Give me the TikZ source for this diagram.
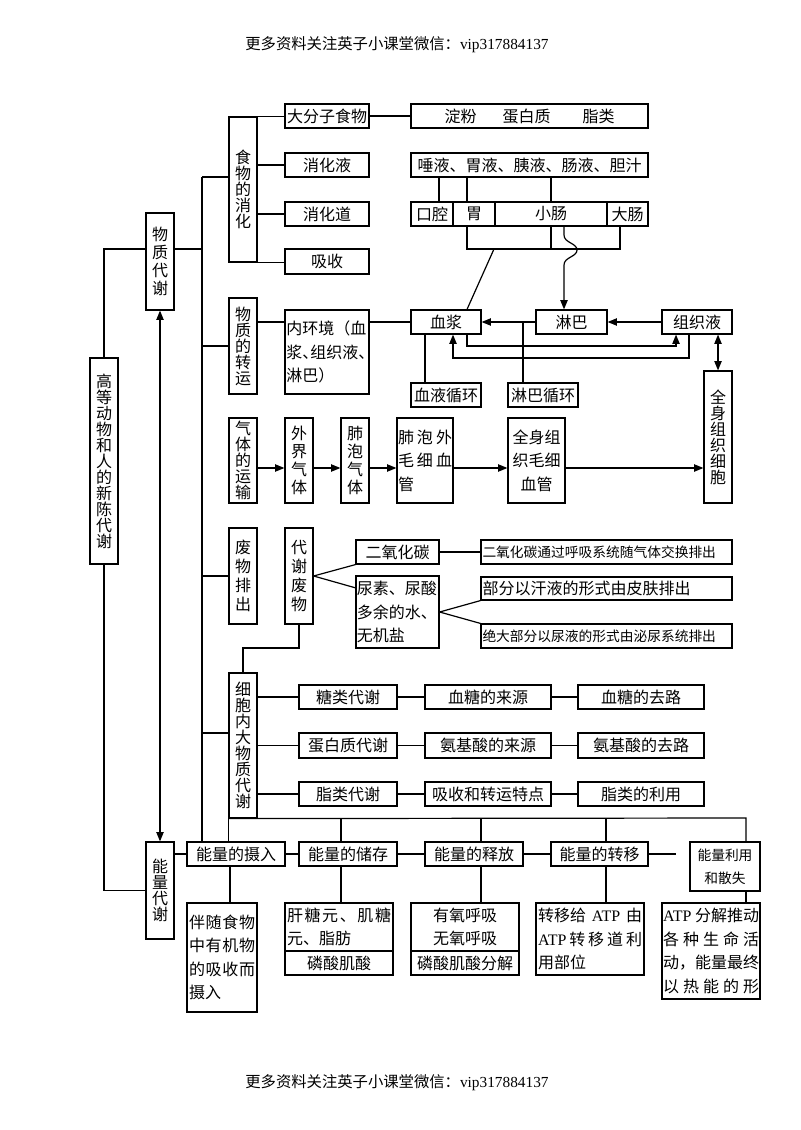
\documentclass[tikz,border=0pt]{standalone}
\usepackage{fontspec}
\setmainfont{Noto Sans CJK SC}
\newfontfamily\tnr{Liberation Serif}
\usetikzlibrary{arrows.meta}
\newcommand\bx[7][]{\node[bxs,minimum width={(#5-#3)*0.75pt},minimum height={(#6-#4)*0.75pt},#1] (#2) at ({(#3+#5)/2},{(#4+#6)/2}) {#7};}
\newcommand\jl[2]{\makebox[#1][s]{#2}}
\newcommand\mydun{\makebox[0.5em][l]{、}}
\begin{document}
\begin{tikzpicture}[x=0.75pt,y=-0.75pt,line width=0.9pt,
  bxs/.style={draw,inner sep=0pt,align=center,font=\fontsize{12}{17.6}\selectfont},
  vt/.style={font=\fontsize{12}{12}\selectfont},
  vtb/.style={font=\fontsize{12}{13.5}\selectfont},
  vtc/.style={font=\fontsize{12}{14.2}\selectfont},
  sm/.style={font=\fontsize{10.3}{17}\selectfont},
  hd/.style={font=\fontsize{11.5}{12}\selectfont},
  arr/.style={-{Triangle[length=7pt,width=5.5pt]}},
  darr/.style={{Triangle[length=7pt,width=5.5pt]}-{Triangle[length=7pt,width=5.5pt]}}]
\useasboundingbox (0,0) rectangle (800,1130);
\node[hd] (hdr) at (397,45) {更多资料关注英子小课堂微信：{\tnr vip317884137}};
\node[hd] (ftr) at (397,1083) {更多资料关注英子小课堂微信：{\tnr vip317884137}};
% left column
\bx[vt]{gd}{90}{358}{118}{564}{高\\等\\动\\物\\和\\人\\的\\新\\陈\\代\\谢}
\bx[vtb]{wz}{146}{213}{174}{310}{物\\质\\代\\谢}
\bx[vt]{nl}{146}{842}{174}{939}{能\\量\\代\\谢}
% digestion
\bx[vt]{xh}{229}{117}{257}{262}{食\\物\\的\\消\\化}
\bx{dfz}{285}{104}{369}{128}{大分子食物}
\bx{xhy}{285}{153}{369}{177}{消化液}
\bx{xhd}{285}{202}{369}{226}{消化道}
\bx{xs}{285}{249}{369}{274}{吸收}
\bx{df}{411}{104}{648}{128}{淀粉\hspace{19.5pt}蛋白质\hspace{24pt}脂类}
\bx{ty}{411}{153}{648}{177}{唾液、胃液、胰液、肠液、胆汁}
\bx{kq}{411}{202}{453}{226}{口腔}
\bx{wei}{453}{202}{495}{226}{胃}
\bx{xc}{495}{202}{607}{226}{小肠}
\bx{dc}{607}{202}{648}{226}{大肠}
% transport
\bx[vt]{zy}{229}{298}{257}{394}{物\\质\\的\\转\\运}
\bx[text width=61pt,align=left]{nhj}{285}{310}{369}{394}{内环境（血\\浆\mydun 组织液\mydun\\淋巴）}
\bx{xj}{411}{310}{481}{334}{血浆}
\bx{lb}{536}{310}{607}{334}{淋巴}
\bx{zzy}{662}{310}{732}{334}{组织液}
\bx{xyxh}{411}{383}{481}{407}{血液循环}
\bx{lbxh}{508}{383}{578}{407}{淋巴循环}
\bx[vt]{qs}{704}{371}{732}{503}{全\\身\\组\\织\\细\\胞}
% gas
\bx[vt]{qt}{229}{418}{257}{503}{气\\体\\的\\运\\输}
\bx[vtb]{wj}{285}{418}{313}{503}{外\\界\\气\\体}
\bx[vtb]{fp}{341}{418}{369}{503}{肺\\泡\\气\\体}
\bx[text width=40.5pt,align=left]{fpm}{397}{418}{453}{503}{\jl{40.5pt}{肺\hfill 泡\hfill 外}\\\jl{40.5pt}{毛\hfill 细\hfill 血}\\管}
\bx{qsm}{508}{418}{565}{503}{全身组\\织毛细\\血管}
% waste
\bx[vtc]{fw}{229}{528}{257}{624}{废\\物\\排\\出}
\bx[vtc]{dxfw}{285}{528}{313}{624}{代\\谢\\废\\物}
\bx{co2}{356}{540}{439}{564}{二氧化碳}
\bx[text width=61pt,align=left]{ns}{356}{576}{439}{648}{尿素、尿酸\\多余的水、\\无机盐}
\bx[sm,text width=186pt,align=left]{co2t}{481}{540}{732}{564}{二氧化碳通过呼吸系统随气体交换排出}
\bx[text width=186pt,align=left]{hy}{481}{577}{732}{600}{部分以汗液的形式由皮肤排出}
\bx[sm,text width=186pt,align=left]{ny}{481}{624}{732}{648}{绝大部分以尿液的形式由泌尿系统排出}
% cell metabolism
\bx[vt]{xb}{229}{673}{257}{818}{细\\胞\\内\\大\\物\\质\\代\\谢}
\bx{tl}{299}{685}{397}{709}{糖类代谢}
\bx{xtly}{425}{685}{551}{709}{血糖的来源}
\bx{xtql}{578}{685}{704}{709}{血糖的去路}
\bx{db}{299}{733}{397}{758}{蛋白质代谢}
\bx{ajly}{425}{733}{551}{758}{氨基酸的来源}
\bx{ajql}{578}{733}{704}{758}{氨基酸的去路}
\bx{zl}{299}{782}{397}{806}{脂类代谢}
\bx{xszy}{425}{782}{551}{806}{吸收和转运特点}
\bx{zlly}{578}{782}{704}{806}{脂类的利用}
% energy
\bx{sr}{187}{842}{285}{866}{能量的摄入}
\bx{cc}{299}{842}{397}{866}{能量的储存}
\bx{sf}{425}{842}{523}{866}{能量的释放}
\bx{zy2}{551}{842}{648}{866}{能量的转移}
\bx[sm]{lysj}{690}{842}{760}{891}{能量利用\\和散失}
\bx[text width=49.5pt,align=left]{s1}{187}{903}{257}{1012}{\jl{49.5pt}{伴\hfill 随\hfill 食\hfill 物}\\\jl{49.5pt}{中\hfill 有\hfill 机\hfill 物}\\\jl{49.5pt}{的\hfill 吸\hfill 收\hfill 而}\\摄入}
\bx[text width=78pt,align=left]{s2a}{285}{903}{393}{951}{\jl{78pt}{肝\hfill 糖\hfill 元\hfill 、\hfill 肌\hfill 糖}\\元、脂肪}
\bx{s2b}{285}{951}{393}{975}{磷酸肌酸}
\bx{s3a}{411}{903}{519}{951}{有氧呼吸\\无氧呼吸}
\bx{s3b}{411}{951}{519}{975}{磷酸肌酸分解}
\bx[text width=78pt,align=left]{s4}{536}{903}{644}{975}{\jl{78pt}{转移给\hfill{\tnr ATP}\hfill 由}\\\jl{78pt}{{\tnr ATP}\hfill 转\hfill 移\hfill 道\hfill 利}\\用部位}
\bx[text width=72pt,align=left]{s5}{662}{903}{760}{999}{\jl{72pt}{{\tnr ATP}\hfill 分解推动}\\\jl{72pt}{各\hfill 种\hfill 生\hfill 命\hfill 活}\\动，能量最终\\\jl{72pt}{以\hfill 热\hfill 能\hfill 的\hfill 形}}
% ---- connectors ----
\coordinate (ttop) at (202,177);
\coordinate (tbot) at (202,842);
\coordinate (j1) at (146,249);
\coordinate (j2) at (174,249);
\coordinate (tx) at (202,733);
\draw (gd.north) |- (j1);
\draw (gd.south) |- (nl.west);
\draw[darr] (wz.south) -- (nl.north);
\draw (j2) -- (j2 -| ttop);
\draw (ttop) -- (tbot);
\draw (ttop) -- (ttop -| xh.west);
\draw (zy.west -| ttop) -- (zy.west);
\draw (fw.west -| ttop) -- (fw.west);
\draw (tx) -- (tx -| xb.west);
% digestion
\draw (xh.north east) -- (xh.north east -| dfz.west);
\draw (xh.east |- xhy.west) -- (xhy.west);
\draw (xh.east |- xhd.west) -- (xhd.west);
\draw (xh.south east) -- (xh.south east -| xs.west);
\draw (dfz.east) -- (df.west);
\coordinate (c439) at (439,0);
\coordinate (c467) at (467,0);
\draw (ty.south -| c439) -- (kq.north -| c439);
\draw (ty.south -| c467) -- (wei.north -| c467);
\draw (ty.south -| xc.north) -- (xc.north);
\coordinate (h1) at (467,249);
\coordinate (h3) at (620,249);
\coordinate (h4) at (494,249);
\draw (wei.south -| h1) -- (h1) -- (h3) -- (dc.south -| h3);
\draw (xc.south) -- (xc.south |- h1);
\draw (h4) -- (xj.north -| c467);
\coordinate (w0) at (564,226);
\draw[arr] (w0) -- ++(0,9) .. controls +(0,8) and +(0,-7) .. ++(13,15) .. controls +(0,7) and +(0,-8) .. ++(-13,15) -- (lb.north -| w0);
% transport
\draw (zy.east |- xj.west) -- (nhj.west |- xj.west);
\draw (nhj.east |- xj.west) -- (xj.west);
\draw[arr] (lb.west) -- (xj.east);
\draw[arr] (zzy.west) -- (lb.east);
\coordinate (a1) at (467,346);
\coordinate (a2) at (676,346);
\draw[arr] (xj.south -| a1) -- (a1) -- (a2) -- (zzy.south -| a2);
\coordinate (b1) at (689,358);
\coordinate (b2) at (453,358);
\draw[arr] (zzy.south -| b1) -- (b1) -- (b2) -- (xj.south -| b2);
\draw[darr] (qs.north |- zzy.south) -- (qs.north);
\coordinate (c425) at (425,0);
\coordinate (c523) at (523,0);
\draw (xj.south -| c425) -- (xyxh.north -| c425);
\draw (lbxh.north -| c523) -- (lb.west -| c523);
% gas
\coordinate (g) at (0,468);
\draw[arr] (qt.east |- g) -- (wj.west |- g);
\draw[arr] (wj.east |- g) -- (fp.west |- g);
\draw[arr] (fp.east |- g) -- (fpm.west |- g);
\draw[arr] (fpm.east |- g) -- (qsm.west |- g);
\draw[arr] (qsm.east |- g) -- (qs.west |- g);
% waste
\coordinate (n1) at (356,588);
\draw (dxfw.east) -- (co2.south west);
\draw (dxfw.east) -- (n1);
\draw (co2.east) -- (co2t.west);
\draw (ns.east) -- (hy.south west);
\draw (ns.east) -- (ny.north west);
\coordinate (k1) at (243,648);
\draw (dxfw.south) |- (k1) -- (xb.north -| k1);
% cell
\draw (xb.east |- tl.west) -- (tl.west);
\draw (tl.east) -- (xtly.west);
\draw (xtly.east) -- (xtql.west);
\draw (xb.east |- db.west) -- (db.west);
\draw (db.east) -- (ajly.west);
\draw (ajly.east) -- (ajql.west);
\draw (xb.east |- zl.west) -- (zl.west);
\draw (zl.east) -- (xszy.west);
\draw (xszy.east) -- (zlly.west);
\coordinate (e1) at (341,818);
\coordinate (e2) at (481,818);
\coordinate (e3) at (606,818);
\coordinate (e4) at (746,818);
\draw (xb.south west) -- (e4) -- (lysj.north -| e4);
\draw (e1) -- (cc.north -| e1);
\draw (e2) -- (sf.north -| e2);
\draw (e3) -- (zy2.north -| e3);
\draw (xb.south west) -- (sr.north -| xb.south west);
% energy
\draw (nl.east |- sr.west) -- (sr.west);
\draw (sr.east) -- (cc.west);
\draw (cc.east) -- (sf.west);
\draw (sf.east) -- (zy2.west);
\coordinate (e5) at (676,854);
\draw (zy2.east) -- (e5);
\coordinate (d1) at (230,0);
\draw (sr.south -| d1) -- (s1.north -| d1);
\draw (cc.south -| e1) -- (s2a.north -| e1);
\draw (sf.south -| e2) -- (s3a.north -| e2);
\draw (zy2.south -| e3) -- (s4.north -| e3);
\draw (lysj.south -| e4) -- (s5.north -| e4);
\end{tikzpicture}
\end{document}
